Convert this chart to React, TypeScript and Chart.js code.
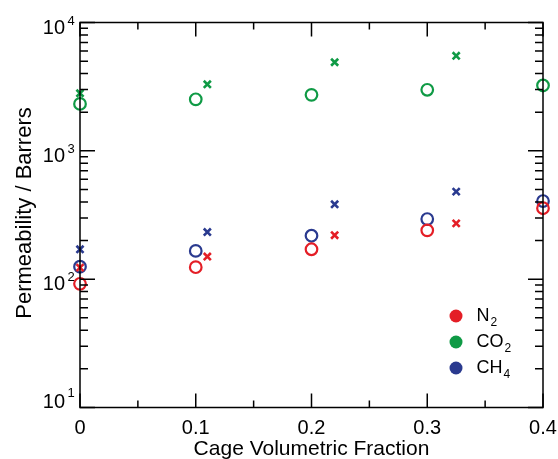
import React, { useEffect, useRef } from 'react';
import { Chart, registerables } from 'chart.js';

Chart.register(...registerables);

// Data
const xCircle = [0, 0.1, 0.2, 0.3, 0.4];
const xCross = [0, 0.11, 0.22, 0.325];
const n2Circle = [92, 124, 171, 240, 357];
const n2Cross = [123, 150, 220, 272];
const co2Circle = [2320, 2520, 2730, 2990, 3230];
const co2Cross = [2810, 3300, 4900, 5500];
const ch4Circle = [125, 166, 218, 294, 406];
const ch4Cross = [171, 233, 383, 481];

const xMajorTicks = [0, 0.1, 0.2, 0.3, 0.4];
const xMinorTicks = [0.05, 0.15, 0.25, 0.35];
const xTickLabels = ['0', '0.1', '0.2', '0.3', '0.4'];
const yExponents = [1, 2, 3, 4];
const yMinorMultipliers = [2, 3, 4, 5, 6, 7, 8, 9];

const legendBase = ['N', 'CO', 'CH'];
const legendSub = ['2', '2', '4'];

const RED = '#e41e26';
const GREEN = '#0f9a45';
const BLUE = '#2a3a8f';
const legendColors = [RED, GREEN, BLUE];

const FONT = '"Liberation Sans", Arial, Helvetica, sans-serif';

const toPts = (xs: number[], ys: number[]) => ys.map((y, i) => ({ x: xs[i], y }));

const axesPlugin = {
  id: 'customAxes',
  afterDraw(chart: any) {
    const ctx = chart.ctx;
    const { left, right, top, bottom } = chart.chartArea;
    const xs = chart.scales.x;
    const ys = chart.scales.y;
    ctx.save();
    ctx.strokeStyle = '#000';
    ctx.fillStyle = '#000';
    ctx.lineWidth = 1.5;
    ctx.strokeRect(left, top, right - left, bottom - top);

    ctx.beginPath();
    xMajorTicks.forEach((v) => {
      const px = xs.getPixelForValue(v);
      ctx.moveTo(px, bottom); ctx.lineTo(px, bottom - 14);
      ctx.moveTo(px, top); ctx.lineTo(px, top + 14);
    });
    xMinorTicks.forEach((v) => {
      const px = xs.getPixelForValue(v);
      ctx.moveTo(px, bottom); ctx.lineTo(px, bottom - 7);
      ctx.moveTo(px, top); ctx.lineTo(px, top + 7);
    });
    yExponents.forEach((e) => {
      const py = ys.getPixelForValue(Math.pow(10, e));
      ctx.moveTo(left, py); ctx.lineTo(left + 15, py);
      ctx.moveTo(right, py); ctx.lineTo(right - 15, py);
      if (e < 4) {
        yMinorMultipliers.forEach((m) => {
          const pm = ys.getPixelForValue(m * Math.pow(10, e));
          ctx.moveTo(left, pm); ctx.lineTo(left + 8, pm);
          ctx.moveTo(right, pm); ctx.lineTo(right - 8, pm);
        });
      }
    });
    ctx.stroke();

    ctx.font = `20px ${FONT}`;
    ctx.textAlign = 'center';
    ctx.textBaseline = 'alphabetic';
    xMajorTicks.forEach((v, i) => {
      ctx.fillText(xTickLabels[i], xs.getPixelForValue(v), 433.5);
    });

    yExponents.forEach((e) => {
      const py = ys.getPixelForValue(Math.pow(10, e));
      const base = e === 1 ? py : py + 11;
      ctx.font = `20px ${FONT}`;
      ctx.textAlign = 'right';
      ctx.fillText('10', 65, base);
      ctx.font = `13px ${FONT}`;
      ctx.textAlign = 'left';
      ctx.fillText(String(e), 67.5, base - (e === 1 ? 11 : 9));
    });

    ctx.font = `21px ${FONT}`;
    ctx.textAlign = 'center';
    ctx.fillText('Cage Volumetric Fraction', (left + right) / 2, 455);
    ctx.save();
    ctx.translate(31, (top + bottom) / 2 - 2);
    ctx.rotate(-Math.PI / 2);
    ctx.font = `22px ${FONT}`;
    ctx.fillText('Permeability / Barrers', 0, 0);
    ctx.restore();

    legendBase.forEach((txt, i) => {
      const cy = 316 + i * 26;
      ctx.fillStyle = legendColors[i];
      ctx.beginPath();
      ctx.arc(456, cy, 6.5, 0, Math.PI * 2);
      ctx.fill();
      ctx.fillStyle = '#000';
      ctx.font = `18px ${FONT}`;
      ctx.textAlign = 'left';
      ctx.fillText(txt, 476.5, cy + 5);
      const w = ctx.measureText(txt).width;
      ctx.font = `12px ${FONT}`;
      ctx.fillText(legendSub[i], 476.5 + w + 1, cy + 10);
    });
    ctx.restore();
  },
};

export default function App() {
  const ref = useRef<HTMLCanvasElement | null>(null);
  useEffect(() => {
    if (!ref.current) return;
    const circle = (label: string, color: string, xs: number[], ys: number[]) => ({
      label,
      data: toPts(xs, ys),
      pointStyle: 'circle',
      pointRadius: 5.8,
      pointBorderWidth: 2.2,
      pointBorderColor: color,
      pointBackgroundColor: 'rgba(0,0,0,0)',
      borderColor: color,
      backgroundColor: 'rgba(0,0,0,0)',
      showLine: false,
      clip: false,
    });
    const cross = (label: string, color: string, xs: number[], ys: number[]) => ({
      label,
      data: toPts(xs, ys),
      pointStyle: 'crossRot',
      pointRadius: 5,
      pointBorderWidth: 2.6,
      pointBorderColor: color,
      pointBackgroundColor: color,
      borderColor: color,
      backgroundColor: color,
      showLine: false,
      clip: false,
    });
    const chart = new Chart(ref.current, {
      type: 'scatter',
      data: {
        datasets: [
          cross('N2 cross', RED, xCross, n2Cross),
          cross('CO2 cross', GREEN, xCross, co2Cross),
          cross('CH4 cross', BLUE, xCross, ch4Cross),
          circle('N2', RED, xCircle, n2Circle),
          circle('CO2', GREEN, xCircle, co2Circle),
          circle('CH4', BLUE, xCircle, ch4Circle),
        ] as any,
      },
      options: {
        animation: false,
        responsive: false,
        maintainAspectRatio: false,
        layout: { padding: { left: 80, right: 15, top: 22.5, bottom: 51.5 } },
        plugins: { legend: { display: false }, tooltip: { enabled: false } },
        scales: {
          x: { type: 'linear', min: 0, max: 0.4, display: false },
          y: { type: 'logarithmic', min: 10, max: 10000, display: false },
        },
      },
      plugins: [axesPlugin],
    });
    return () => chart.destroy();
  }, []);
  return (
    <div style={{ position: 'absolute', left: 0, top: 0, width: 558, height: 459 }}>
      <canvas ref={ref} width={558} height={459} style={{ display: 'block' }} />
    </div>
  );
}
